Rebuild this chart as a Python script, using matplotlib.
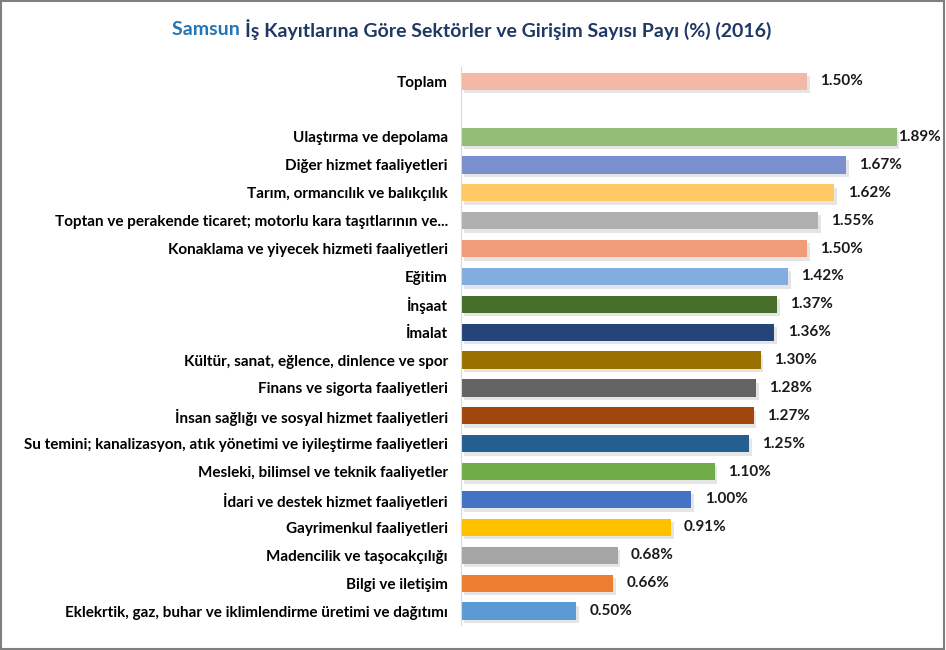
import matplotlib.pyplot as plt
import matplotlib.patheffects as pe
from matplotlib.patches import Rectangle

# data
total_label = "Toplam"
total_value = 1.50
total_color = "#F4B9A6"

sectors = [
    "Ulaştırma ve depolama",
    "Diğer hizmet faaliyetleri",
    "Tarım, ormancılık ve balıkçılık",
    "Toptan ve perakende ticaret; motorlu kara taşıtlarının ve...",
    "Konaklama ve yiyecek hizmeti faaliyetleri",
    "Eğitim",
    "İnşaat",
    "İmalat",
    "Kültür, sanat, eğlence, dinlence ve spor",
    "Finans ve sigorta faaliyetleri",
    "İnsan sağlığı ve sosyal hizmet faaliyetleri",
    "Su temini; kanalizasyon, atık yönetimi ve iyileştirme faaliyetleri",
    "Mesleki, bilimsel ve teknik faaliyetler",
    "İdari ve destek hizmet faaliyetleri",
    "Gayrimenkul faaliyetleri",
    "Madencilik ve taşocakçılığı",
    "Bilgi ve iletişim",
    "Eklekrtik, gaz, buhar ve iklimlendirme üretimi ve dağıtımı",
]
shares = [1.89, 1.67, 1.62, 1.55, 1.50, 1.42, 1.37, 1.36, 1.30, 1.28,
          1.27, 1.25, 1.10, 1.00, 0.91, 0.68, 0.66, 0.50]
colors = ["#93BD77", "#7A8FCD", "#FFCA66", "#B0B0B0", "#F19C78", "#82ADDE",
          "#466E2A", "#27447A", "#9A7000", "#636363", "#A0470E", "#255E91",
          "#70AD47", "#4472C4", "#FFC000", "#A5A5A5", "#ED7D31", "#5B9BD5"]

plt.rcParams['font.family'] = ['Lato', 'DejaVu Sans']

fig = plt.figure(figsize=(9.46, 6.5), dpi=100)
ax = fig.add_axes([0.4873, 0.0385, 0.4873, 0.858])

# Toplam on top, then an empty slot, then the sectors
labels = [total_label, ""] + sectors
values = [total_value, None] + shares
bar_colors = [total_color, None] + colors

shadow = [pe.SimplePatchShadow(offset=(2, -2.5), shadow_rgbFace="#8c8c8c", alpha=0.22), pe.Normal()]
for i, (v, c) in enumerate(zip(values, bar_colors)):
    if v is None:
        continue
    b = ax.barh(i, v, height=0.62, color=c)
    b[0].set_path_effects(shadow)
    off = 1 if v == max(shares) else 9.5
    ax.annotate(f"{v:.2f}%", (v, i), xytext=(off, 0), textcoords="offset points",
                va="center", ha="left", fontsize=11, fontweight="bold", color="#1a1a1a")

ax.set_xlim(0, 2.0)
ax.set_ylim(len(labels) - 0.5, -0.5)
ax.set_yticks(range(len(labels)))
ax.set_yticklabels(labels, fontsize=11, fontweight="bold")
ax.tick_params(axis="y", length=0, pad=9.5)
ax.set_xticks([])
for s in ["top", "right", "bottom"]:
    ax.spines[s].set_visible(False)
ax.spines["left"].set_color("#d9d9d9")

# title in two colours
t1 = fig.text(0.182, 0.955, "Samsun ", fontsize=14, fontweight="bold", color="#2475B5", va="center")
fig.canvas.draw()
bb = t1.get_window_extent()
x2 = fig.transFigure.inverted().transform((bb.x1, 0))[0]
fig.text(x2, 0.955, "İş Kayıtlarına Göre Sektörler ve Girişim Sayısı Payı (%) (2016)",
         fontsize=14, fontweight="bold", color="#1F3864", va="center")

# outer border
fig.patches.append(Rectangle((0.001, 0.002), 0.997, 0.996, transform=fig.transFigure,
                             fill=False, edgecolor="#7f7f7f", linewidth=1.5))

fig.savefig("out.png", dpi=100)
